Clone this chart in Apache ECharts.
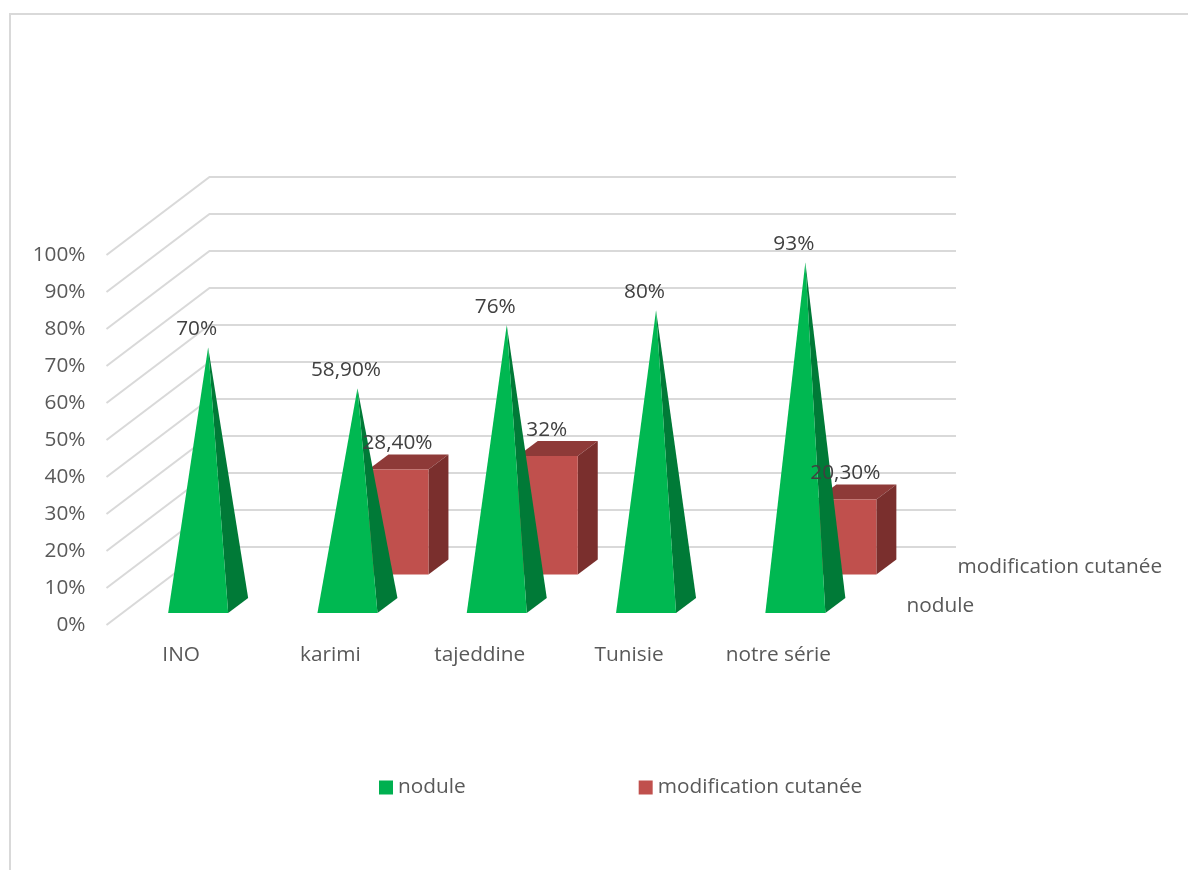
<!DOCTYPE html>
<html>
<head>
<meta charset="utf-8">
<style>html,body{margin:0;padding:0;background:#fff}#chart{width:1188px;height:870px}</style>
<script src="https://cdn.jsdelivr.net/npm/echarts@6/dist/echarts.min.js"></script>
</head>
<body>
<div id="chart"></div>
<script>
// Study comparison: share of nodules and skin changes, drawn as a pseudo-3D column chart.
const categories = ['INO', 'karimi', 'tajeddine', 'Tunisie', 'notre série'];
const seriesNames = ['nodule', 'modification cutanée'];
const noduleValues = [70, 58.9, 76, 80, 93];
const skinValues = [null, 28.4, 32, null, 20.3];
const noduleLabels = ['70%', '58,90%', '76%', '80%', '93%'];
const skinLabels = ['', '28,40%', '32%', '', '20,30%'];
const percentTicks = [0, 10, 20, 30, 40, 50, 60, 70, 80, 90, 100];

const FONT = '"Open Sans", "Noto Sans", sans-serif';
const FONT_SIZE = 20.8;
const AXIS_TEXT = '#595959';
const LABEL_TEXT = '#404040';
const GRID_LINE = '#d9d9d9';

// Oblique projection of the chart floor
const WALL_DX = 103, WALL_DY = -78;
const DEPTH_DX = 20, DEPTH_DY = -15, HALF_WIDTH = 30;

function poly(points, fill, z2) {
  return { type: 'polygon', z2: z2 || 0, shape: { points: points }, style: { fill: fill } };
}

// Side wall and back wall lines for each percentage tick
function renderWall(params, api) {
  const box = params.coordSys;
  const y = api.coord([0, api.value(0)])[1];
  return {
    type: 'polyline',
    shape: { points: [
      [box.x, y],
      [box.x + WALL_DX, y + WALL_DY],
      [box.x + box.width + WALL_DX, y + WALL_DY]
    ] },
    style: { stroke: GRID_LINE, lineWidth: 2, fill: null }
  };
}

// Front row: a pyramid showing its front and right faces
function renderPyramid(params, api) {
  const v = api.value(1);
  if (isNaN(v)) return null;
  const top = api.coord([api.value(0), v]);
  const zero = api.coord([api.value(0), 0]);
  const cx = zero[0] + 17;
  const base = zero[1] - 12;
  const apex = [cx + 10, top[1] - 18.7];
  const fl = [cx - HALF_WIDTH, base], fr = [cx + HALF_WIDTH, base];
  const br = [fr[0] + DEPTH_DX, fr[1] + DEPTH_DY];
  return { type: 'group', children: [
    poly([fr, br, apex], '#007A37'),
    poly([fl, fr, apex], '#00B851')
  ] };
}

// Back row: a box showing its front, top and right faces
function renderBox(params, api) {
  const v = api.value(1);
  if (isNaN(v)) return null;
  const top = api.coord([api.value(0), v]);
  const zero = api.coord([api.value(0), 0]);
  const cx = zero[0] + 68;
  const lift = 50.5;
  const yb = zero[1] - lift, yt = top[1] - lift;
  const l = cx - HALF_WIDTH, r = cx + HALF_WIDTH;
  const dx = DEPTH_DX, dy = DEPTH_DY;
  return { type: 'group', children: [
    poly([[l, yt], [r, yt], [r + dx, yt + dy], [l + dx, yt + dy]], '#8E3A38'),
    poly([[r, yb], [r + dx, yb + dy], [r + dx, yt + dy], [r, yt]], '#7A2F2D'),
    poly([[l, yb], [r, yb], [r, yt], [l, yt]], '#C0504D')
  ] };
}

// Data labels sit in their own series so they stay above every face
function labelRenderer(texts, dx, dy) {
  return function (params, api) {
    const t = texts[params.dataIndex];
    if (!t) return null;
    const p = api.coord([api.value(0), api.value(1)]);
    return {
      type: 'text',
      style: {
        x: p[0] + dx, y: p[1] + dy, text: t, fill: LABEL_TEXT,
        font: FONT_SIZE + 'px ' + FONT, align: 'center', verticalAlign: 'middle'
      }
    };
  };
}

const pairs = values => categories.map((c, i) => [i, values[i]]);

const chart = echarts.init(document.getElementById('chart'), null, { renderer: 'canvas' });
chart.setOption({
  animation: false,
  backgroundColor: '#ffffff',
  textStyle: { fontFamily: FONT },
  grid: { left: 106.5, right: 335, top: 255, bottom: 245 },
  xAxis: {
    type: 'category',
    data: categories,
    axisLine: { show: false },
    axisTick: { show: false },
    splitLine: { show: false },
    axisLabel: { color: AXIS_TEXT, fontSize: FONT_SIZE, fontFamily: FONT, margin: 20 }
  },
  yAxis: {
    type: 'value',
    min: 0,
    max: 100,
    interval: 10,
    axisLine: { show: false },
    axisTick: { show: false },
    splitLine: { show: false },
    axisLabel: { color: AXIS_TEXT, fontSize: FONT_SIZE, fontFamily: FONT, margin: 21, formatter: '{value}%' }
  },
  legend: {
    data: seriesNames.map(name => ({ name: name, icon: 'rect' })),
    left: 374,
    top: 772,
    itemWidth: 14,
    itemHeight: 14,
    itemGap: 173,
    textStyle: { color: AXIS_TEXT, fontSize: FONT_SIZE, fontFamily: FONT }
  },
  graphic: [
    { type: 'polyline', silent: true, shape: { points: [[10, 870], [10, 14], [1188, 14]] },
      style: { stroke: GRID_LINE, lineWidth: 2, fill: null } },
    { type: 'text', silent: true, x: 906.5, y: 606,
      style: { text: seriesNames[0], fill: AXIS_TEXT, font: FONT_SIZE + 'px ' + FONT, verticalAlign: 'middle' } },
    { type: 'text', silent: true, x: 957.5, y: 567.5,
      style: { text: seriesNames[1], fill: AXIS_TEXT, font: FONT_SIZE + 'px ' + FONT, verticalAlign: 'middle' } }
  ],
  series: [
    { type: 'custom', name: 'walls', z: 1, silent: true, renderItem: renderWall,
      coordinateSystem: 'cartesian2d', encode: { y: 0 }, data: percentTicks.map(v => [v]) },
    { type: 'custom', name: seriesNames[1], z: 2, renderItem: renderBox,
      itemStyle: { color: '#C0504D' }, encode: { x: 0, y: 1 }, data: pairs(skinValues) },
    { type: 'custom', name: seriesNames[0], z: 3, renderItem: renderPyramid,
      itemStyle: { color: '#00B050' }, encode: { x: 0, y: 1 }, data: pairs(noduleValues) },
    { type: 'custom', name: 'skin labels', z: 4, silent: true, renderItem: labelRenderer(skinLabels, 67, -76.5),
      encode: { x: 0, y: 1 }, data: pairs(skinValues) },
    { type: 'custom', name: 'nodule labels', z: 4, silent: true, renderItem: labelRenderer(noduleLabels, 15.5, -37),
      encode: { x: 0, y: 1 }, data: pairs(noduleValues) }
  ]
});
</script>
</body>
</html>
